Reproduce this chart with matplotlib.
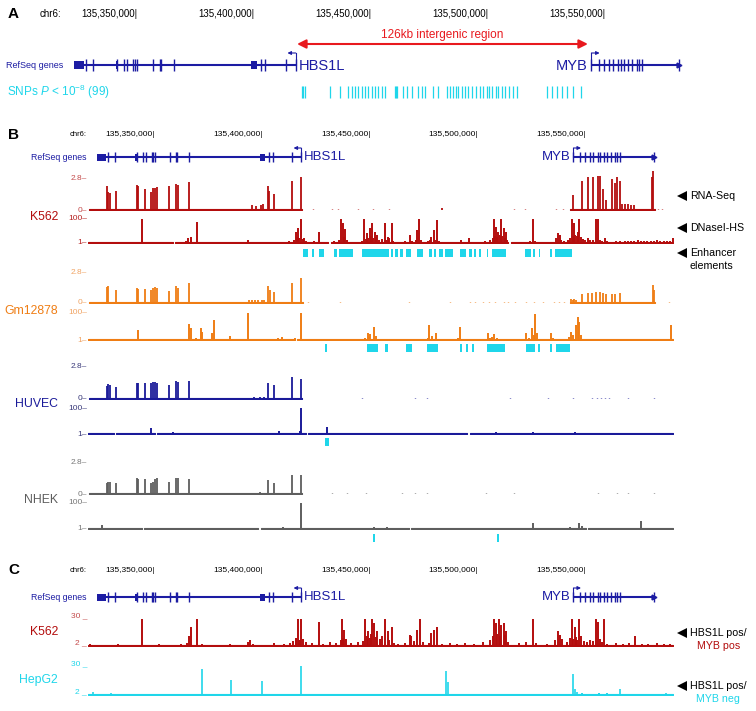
import matplotlib
matplotlib.use('Agg')
import matplotlib.pyplot as plt
from matplotlib.patches import Rectangle

plt.rcParams['font.family'] = ['Liberation Sans', 'DejaVu Sans']
plt.rcParams['mathtext.fontset'] = 'custom'
plt.rcParams['mathtext.rm'] = 'Liberation Sans'
plt.rcParams['mathtext.it'] = 'Liberation Sans:italic'

# all positions in kb from chr6:135,300,000
tick_kb = [50, 100, 150, 200, 250]
tick_labels = ['135,350,000|', '135,400,000|', '135,450,000|', '135,500,000|', '135,550,000|']

hbs1l_span = (23.1, 117.8)
hbs1l_exons = [28.3, 31.4, 41.5, 44.6, 45.7, 48.5, 49.2, 50.0, 57.0, 59.7, 60.4, 65.8,
               103.1, 104.9, 113.5, 117.8]
hbs1l_blocks = [(23.1, 27.3), (40.9, 41.9), (98.8, 101.1)]
myb_span = (244.2, 281.8)
myb_exons = [244.2, 247.4, 249.4, 251.7, 253.3, 255.6, 256.7, 258.3, 259.9, 261.7, 263.7,
             264.5, 266.0, 281.8]
intergenic = (118.4, 242.7)

snps = [120.4, 121.1, 121.8, 132.5, 136.8, 140.3, 141.8, 143.2, 144.6, 146.0, 147.4, 148.8,
        150.3, 151.7, 153.1, 154.5, 155.9, 160.3, 160.6, 160.9, 163.8, 165.3, 167.4, 170.2,
        171.7, 173.1, 176.6, 178.8, 182.4, 183.8, 185.2, 186.3, 187.3, 188.8, 190.2, 191.6,
        193.0, 194.9, 196.6, 198.0, 199.4, 200.6, 201.6, 203.4, 204.4, 205.9, 207.3, 209.1,
        210.6, 212.3, 225.1, 227.2, 229.4, 231.5, 233.6, 236.4, 239.6]

# RNA-Seq (0-2.8), (position, signal)
k562_rna = [(27.7, 2.06), (28.4, 1.57), (29.3, 1.49), (32.1, 1.63), (41.6, 2.23), (42.2, 2.06),
            (45.3, 1.86), (48.3, 1.57), (49.2, 1.94), (50.1, 1.94), (51.0, 2.00), (56.6, 2.06),
            (59.8, 2.29), (60.5, 2.23), (65.6, 2.43), (95.0, 0.40), (97.0, 0.35), (99.0, 0.45),
            (100.3, 0.50), (102.4, 2.14), (103.0, 1.66), (105.1, 1.37), (113.5, 2.51),
            (117.6, 2.86), (183.1, 0.2), (243.9, 1.29), (248.3, 2.57), (251.0, 2.91),
            (253.1, 2.91), (255.4, 3.0), (256.6, 3.0), (258.0, 1.86), (259.3, 0.86),
            (262.1, 2.71), (263.3, 2.34), (264.5, 2.86), (265.9, 2.57), (266.8, 0.55),
            (268.0, 0.50), (269.5, 0.55), (271.0, 0.45), (272.5, 0.40), (280.6, 2.86), (281.3, 3.4)]
k562_rna_cov = [(19.5, 118.0), (242.5, 282.0)]
k562_rna_dots = [123.2, 132.0, 134.7, 144.4, 151.4, 158.5, 216.6, 221.9, 236.0, 239.5, 283.6, 285.4]

gm_rna = [(27.5, 1.52), (28.4, 1.62), (32.1, 1.21), (41.6, 1.43), (42.2, 1.31), (45.3, 1.31),
          (48.3, 1.21), (49.2, 1.43), (50.1, 1.49), (51.0, 1.43), (56.6, 1.12), (59.8, 1.62),
          (60.5, 1.43), (65.6, 1.84), (93.5, 0.25), (95.0, 0.3), (96.5, 0.28), (98.0, 0.32),
          (99.5, 0.3), (100.8, 0.26), (102.4, 1.62), (103.3, 1.21), (105.1, 1.06), (113.5, 1.9),
          (117.6, 2.3), (243.0, 0.34), (243.8, 0.3), (244.6, 0.34), (245.4, 0.3), (248.3, 0.81),
          (251.0, 0.9), (252.7, 0.9), (254.5, 1.0), (256.6, 1.0), (258.0, 0.9), (259.3, 0.81),
          (262.1, 0.81), (263.3, 0.81), (265.9, 0.9), (280.9, 1.68), (281.8, 1.21)]
gm_rna_cov = [(19.5, 118.5), (242.5, 282.0)]
gm_rna_dots = [121.0, 136.0, 168.0, 187.0, 196.0, 198.5, 202.0, 205.0, 208.0, 212.0, 214.0,
               217.0, 222.0, 226.0, 230.0, 235.0, 237.5, 240.0, 288.5]

huvec_rna = [(27.5, 1.1), (28.4, 1.27), (29.3, 1.19), (32.1, 1.05), (41.6, 1.39), (42.2, 1.33),
             (45.3, 1.39), (48.3, 1.33), (49.2, 1.44), (50.1, 1.44), (51.0, 1.39), (56.6, 1.19),
             (59.8, 1.5), (60.5, 1.47), (65.6, 1.53), (96.0, 0.14), (98.5, 0.16), (100.5, 0.15),
             (102.4, 1.39), (105.1, 1.19), (113.5, 1.84), (117.6, 1.67)]
huvec_rna_cov = [(19.5, 118.0)]
huvec_rna_dots = [146.1, 170.8, 176.1, 214.8, 232.5, 243.9, 252.7, 255.0, 257.0, 259.0, 260.5,
                  269.5, 281.8]

nhek_rna = [(27.5, 0.99), (28.4, 1.08), (29.3, 1.08), (32.1, 0.99), (41.6, 1.37), (42.2, 1.28),
            (45.3, 1.28), (48.3, 0.99), (49.2, 1.08), (50.1, 1.28), (51.0, 1.37), (56.6, 1.08),
            (59.8, 1.43), (60.5, 1.37), (65.6, 1.28), (96.0, 0.12), (98.5, 0.14), (100.5, 0.12),
            (102.4, 1.22), (105.1, 0.93), (113.5, 1.66), (117.6, 1.66)]
nhek_rna_cov = [(19.5, 118.0)]
nhek_rna_dots = [132.0, 139.1, 147.9, 164.6, 170.8, 176.1, 203.4, 216.6, 255.4, 264.2, 269.5, 281.8]

# DNaseI-HS (1-100)
k562_dnase = [(43.9, 100), (65.4, 20), (66.5, 27), (69.5, 89), (93.3, 13), (115.3, 48),
              (116.5, 61), (117.9, 100), (119.3, 20), (125.9, 48), (136.4, 100), (137.3, 82),
              (138.2, 57), (147.0, 100), (148.2, 41), (149.7, 61), (150.9, 82), (151.9, 48),
              (153.2, 34), (156.7, 84), (157.9, 27), (159.9, 82), (168.2, 34), (171.7, 55),
              (172.6, 100), (178.2, 27), (179.3, 55), (181.0, 96), (191.9, 13), (195.5, 20),
              (207.4, 100), (208.3, 68), (209.2, 48), (210.6, 100), (211.8, 61), (212.7, 48),
              (225.4, 100), (236.9, 41), (237.8, 34), (243.4, 100), (244.4, 82), (246.2, 48),
              (246.9, 100), (254.5, 100), (255.4, 100), (258.9, 20), (290.3, 20)]
k562_dnase_low = [(20.5, 4), (23, 3), (26, 5), (31, 3), (36, 4), (42.5, 6), (45, 4), (50, 3),
                  (55, 4), (58, 3), (62, 5), (64.5, 8), (68, 6), (71, 4), (76, 3), (80, 4),
                  (86, 3), (90, 4), (95, 6), (98, 3), (103, 5), (108, 6), (112, 8), (114.5, 15),
                  (116, 25), (117, 22), (118.5, 18), (120, 8), (122, 6), (124, 9), (127, 5),
                  (130, 7), (133, 8), (135.5, 14), (137.8, 25), (139, 12), (141, 6), (144, 7),
                  (146, 10), (147.8, 18), (148.8, 22), (150.3, 30), (151.3, 20), (152.5, 25),
                  (154, 15), (155.3, 18), (157.2, 14), (158.8, 20), (160.6, 10), (162, 6),
                  (164, 5), (166, 8), (169.5, 10), (171, 14), (173.5, 12), (175, 6), (176.5, 9),
                  (177.7, 14), (180, 12), (182, 10), (184, 6), (186, 5), (188, 6), (190, 7),
                  (193, 6), (197, 5), (200, 6), (203, 8), (205.5, 15), (206.8, 22), (207.9, 30),
                  (208.8, 25), (209.9, 35), (211.2, 28), (212.2, 22), (213.5, 12), (216, 5),
                  (219, 4), (222, 6), (224, 8), (226.5, 10), (229, 5), (231, 4), (234, 7),
                  (236, 20), (238.5, 12), (240, 10), (241.7, 15), (242.7, 22), (243.9, 30),
                  (245, 35), (245.7, 28), (247.5, 25), (248.5, 18), (249.5, 12), (251, 20),
                  (252, 14), (253.5, 15), (256.5, 15), (257.5, 10), (260, 8), (262, 7), (264, 9),
                  (266, 8), (268, 10), (269.5, 8), (271, 10), (272.5, 9), (274, 12), (275.5, 10),
                  (277, 9), (278.5, 11), (280, 10), (281.5, 9), (283, 12), (284.5, 10), (286, 9),
                  (287.5, 11), (289, 10)]
k562_dnase_cov = [(19.0, 58.5), (59.5, 130.5), (131.5, 214.0), (215.0, 290.4)]

gm_dnase = [(42.2, 38), (66.0, 58), (66.8, 44), (71.2, 46), (71.8, 32), (76.5, 25), (77.4, 74),
            (84.8, 17), (93.3, 99), (109.1, 13), (117.6, 99), (148.8, 25), (150.0, 22),
            (151.8, 50), (177.3, 56), (180.5, 25), (191.6, 50), (204.6, 25), (207.4, 22),
            (222.4, 25), (225.1, 44), (226.3, 96), (227.2, 25), (233.9, 25), (243.0, 32),
            (245.3, 56), (246.2, 87), (246.9, 68), (289.7, 56)]
gm_dnase_low = [(25, 3), (33, 4), (39, 3), (45, 5), (51, 3), (58, 4), (64, 6), (69, 8), (73, 5),
                (80, 4), (88, 3), (96, 4), (104, 5), (107, 7), (111, 6), (115, 8), (122, 3),
                (128, 4), (135, 3), (142, 4), (147.5, 8), (149.5, 12), (152.5, 14), (155, 5),
                (160, 4), (165, 5), (170, 4), (176.5, 10), (178.5, 14), (183, 5), (188, 4),
                (190.8, 10), (196, 4), (200, 5), (205.5, 9), (206.5, 12), (208.5, 8), (212, 5),
                (218, 4), (223.5, 10), (225.8, 20), (230, 6), (234.8, 10), (238, 6), (242.2, 12),
                (244.2, 18), (247.5, 20), (250, 6), (255, 5), (260, 5), (266, 4), (272, 4),
                (278, 5), (284, 4)]
gm_dnase_cov = [(19.0, 115.0), (116.0, 290.4)]

huvec_dnase = [(48.0, 23), (58.4, 10), (107.7, 12), (117.1, 14), (117.6, 100), (129.6, 29),
               (208.1, 10), (225.4, 10), (244.8, 10)]
huvec_dnase_low = [(25, 3), (37, 3), (52, 4), (64, 3), (71, 4), (86, 3), (95, 3), (112, 5),
                   (116, 6), (133, 3), (152, 3), (168, 3), (186, 3), (200, 3), (221, 4), (242, 6),
                   (245.8, 6), (262, 3), (280, 3)]
huvec_dnase_cov = [(19.0, 31.0), (32.0, 50.0), (51.0, 120.0), (121.0, 195.0), (196.0, 290.4)]

nhek_dnase = [(25.4, 16), (109.5, 10), (117.6, 100), (151.8, 10), (157.6, 7), (225.4, 25),
              (242.7, 7), (246.6, 23), (248.0, 12), (275.6, 33)]
nhek_dnase_low = [(31, 3), (46, 3), (58, 3), (66, 4), (84, 3), (104, 4), (112, 5), (115.5, 6),
                  (131, 3), (146, 3), (168, 3), (189, 3), (205, 3), (219, 3), (234, 3), (260, 3),
                  (283, 3)]
nhek_dnase_cov = [(19.0, 44.0), (45.0, 98.0), (99.0, 168.0), (169.0, 250.0), (251.0, 290.4)]

# predicted enhancer elements (start, end)
k562_enh = [(118.8, 121.1), (122.9, 123.6), (125.9, 128.2), (132.9, 134.3), (135.2, 141.7),
            (146.1, 158.5), (159.3, 160.6), (161.6, 162.9), (163.7, 165.2), (166.4, 168.7),
            (171.7, 174.3), (177.0, 178.7), (179.6, 180.5), (181.7, 183.5), (184.5, 188.1),
            (191.6, 194.2), (195.5, 196.9), (198.1, 199.0), (200.4, 201.1), (203.9, 204.6),
            (206.6, 212.7), (221.9, 224.5), (225.4, 226.3), (228.1, 228.9), (233.3, 234.2),
            (235.6, 243.4)]
gm_enh = [(128.9, 129.7), (148.2, 153.5), (156.7, 158.1), (166.4, 169.4), (176.1, 181.4),
          (191.6, 192.5), (194.2, 195.1), (197.2, 198.0), (204.3, 212.2), (222.4, 226.3),
          (227.7, 228.9), (233.3, 234.2), (236.0, 242.7)]
huvec_enh = [(128.9, 130.6)]
nhek_enh = [(151.1, 152.1), (208.7, 209.6)]

# panel C enhancer-like signal (2-30)
c_k562 = [(43.9, 30), (66.0, 12.1), (66.8, 21.2), (69.5, 30), (94.1, 8.7), (115.3, 10.4),
          (116.2, 30), (117.1, 8.7), (117.9, 30), (125.9, 27.3), (136.8, 30), (137.8, 18.9),
          (147.5, 30), (148.8, 17.2), (150.9, 30), (151.8, 25.6), (153.2, 17.2), (156.7, 30),
          (157.9, 17.2), (159.9, 22.2), (168.2, 13.8), (169.0, 12.1), (171.7, 18.9),
          (172.9, 30), (178.2, 15.5), (179.3, 18.9), (181.0, 22.2), (207.4, 30), (208.3, 25.6),
          (209.6, 30), (210.6, 23.9), (211.8, 25.6), (212.7, 17.2), (225.4, 30), (236.9, 17.2),
          (237.8, 13.8), (243.4, 30), (244.8, 22.2), (246.6, 30), (254.5, 30), (255.4, 27.3),
          (258.4, 30), (272.6, 12.1)]
c_k562_low = [(20, 4), (24, 3.5), (28, 3), (33, 4), (38, 3.5), (47, 3), (52, 4), (57, 3.5),
              (62, 4), (64.8, 5), (72, 4), (78, 3), (85, 4), (90, 3.5), (93.3, 6), (95.5, 4),
              (100, 3.5), (105, 5), (110, 4), (112.5, 5), (114.2, 7), (115.5, 9), (116.8, 8.7),
              (118.6, 9), (120, 6), (123, 5), (128, 4), (131, 6), (134, 5), (136.1, 8),
              (137.3, 10), (138.6, 9), (141, 5), (144, 6), (146.3, 7), (148.2, 12), (149.7, 10),
              (150.2, 14), (152.5, 11), (154.3, 9), (155.5, 12), (158.5, 8), (161, 5), (163, 4),
              (166, 5), (170.4, 7), (174.5, 6), (177, 5), (183, 4), (187, 5), (190, 4), (194, 5),
              (198, 4), (202, 6), (205.5, 8), (206.7, 12), (208.9, 14), (210.1, 12), (212.2, 13),
              (214, 6), (219, 5), (222, 6), (227, 5), (232, 4), (235.5, 8), (238.8, 9), (241, 6),
              (242.4, 10), (244.1, 9), (245.3, 11), (245.8, 8), (247.6, 12), (249, 7),
              (250.5, 6), (252, 8), (253.5, 7), (256.4, 9), (257.3, 6), (260, 4), (264, 5),
              (267, 4.5), (270, 5), (276, 4), (279, 4.5), (283, 5), (286, 4), (289, 4.5)]
c_hepg2 = [(21.4, 5.5), (29.8, 4.5), (71.6, 28.3), (85.3, 17.4), (99.8, 15.7), (117.6, 30.7),
           (184.9, 26.5), (185.8, 15.0), (243.9, 23), (244.8, 8), (245.7, 5.5), (265.9, 8),
           (287.1, 4.5)]
c_hepg2_low = [(26, 3), (38, 3), (50, 3), (57, 3.5), (61, 3), (68, 3.5), (75, 3), (80, 3.5),
               (92, 3), (104, 3.5), (110, 3), (114, 3.5), (121, 3.5), (128, 3), (140, 3),
               (150, 3), (160, 3.5), (172, 3), (182, 3.5), (200, 3), (214, 3.5), (230, 3),
               (248, 4), (252, 3.5), (256, 4), (260, 4.5), (270, 3.5), (276, 3), (282, 3.5)]

GENE = '#1c1ca3'
RED = '#b30d0d'
ORANGE = '#ef7d14'
HUVEC = '#1a1a99'
GREY = '#5e5e5e'
CYAN = '#1fd6ea'
ARROW = '#e8191e'

W, H = 756, 711
fig = plt.figure(figsize=(W / 100, H / 100), dpi=100)
XL = (18.9, 290.4)
TX0, TX1 = 88, 673


def px_axes(x0, x1, y0, y1):
    ax = fig.add_axes([x0 / W, 1 - y1 / H, (x1 - x0) / W, (y1 - y0) / H])
    ax.axis('off')
    return ax


ov = px_axes(0, W, 0, H)
ov.set_xlim(0, W)
ov.set_ylim(H, 0)


def draw_gene(ax, yc, tick_h, block_h, tss_h, name_fs):
    ax.hlines(yc, *hbs1l_span, color=GENE, lw=1.5)
    ax.vlines(hbs1l_exons, yc - tick_h, yc + tick_h, color=GENE, lw=1.0)
    for s, e in hbs1l_blocks:
        ax.add_patch(Rectangle((s, yc - block_h), e - s, 2 * block_h, color=GENE, lw=0))
    ax.plot([hbs1l_span[1]] * 2, [yc, yc - tss_h], color=GENE, lw=0.8)
    ax.annotate('', xy=(hbs1l_span[1] - 3.5, yc - tss_h), xytext=(hbs1l_span[1], yc - tss_h),
                arrowprops=dict(arrowstyle='-|>', color=GENE, lw=0.8, mutation_scale=5,
                                shrinkA=0, shrinkB=0))
    ax.text(hbs1l_span[1] + 1.2, yc + 0.5, 'HBS1L', color=GENE, fontsize=name_fs,
            ha='left', va='center')
    ax.hlines(yc, *myb_span, color=GENE, lw=1.5)
    ax.vlines(myb_exons, yc - tick_h, yc + tick_h, color=GENE, lw=1.0)
    ax.plot(myb_span[1], yc, marker='>', ms=3.5, color=GENE)
    ax.plot([myb_span[0]] * 2, [yc, yc - tss_h], color=GENE, lw=0.8)
    ax.annotate('', xy=(myb_span[0] + 3.5, yc - tss_h), xytext=(myb_span[0], yc - tss_h),
                arrowprops=dict(arrowstyle='-|>', color=GENE, lw=0.8, mutation_scale=5,
                                shrinkA=0, shrinkB=0))
    ax.text(myb_span[0] - 1.5, yc + 0.5, 'MYB', color=GENE, fontsize=name_fs,
            ha='right', va='center')


# ---------------- panel A ----------------
axA = px_axes(43.4, 710.3, 0, 105)
axA.set_xlim(10, 295)
axA.set_ylim(105, 0)
for k, lab in zip(tick_kb, tick_labels):
    axA.text(k, 14, lab, ha='right', va='center', fontsize=7)
draw_gene(axA, 65, 6, 4, 12, 10.5)
axA.annotate('', xy=(intergenic[0], 44), xytext=(intergenic[1], 44),
             arrowprops=dict(arrowstyle='<|-|>', color=ARROW, lw=1.5, mutation_scale=13,
                             shrinkA=0, shrinkB=0))
axA.text(sum(intergenic) / 2, 35, '126kb intergenic region', color=ARROW, fontsize=8.5,
         ha='center', va='center')
axA.vlines(snps, 86, 98, color=CYAN, lw=0.9)
ov.text(8, 14, 'A', fontsize=11, fontweight='bold', va='center')
ov.text(40, 14, 'chr6:', fontsize=7, va='center')
ov.text(6, 66, 'RefSeq genes', fontsize=6.5, color=GENE, va='center')
ov.text(7, 92, r'SNPs $P$ < 10$^{-8}$ (99)', fontsize=8.5, color=CYAN, va='center')


# ---------------- helpers for B / C ----------------
def header(y0, y1, yc_head, yc_gene, letter):
    ax = px_axes(TX0, TX1, y0, y1)
    ax.set_xlim(XL)
    ax.set_ylim(y1, y0)
    for k, lab in zip(tick_kb, tick_labels):
        ax.text(k, yc_head, lab, ha='right', va='center', fontsize=6)
    draw_gene(ax, yc_gene, 5, 3.5, 9, 9.5)
    ov.text(8, yc_head, letter, fontsize=11, fontweight='bold', va='center')
    ov.text(87, yc_head, 'chr6:', fontsize=5.5, va='center', ha='right')
    ov.text(31, yc_gene, 'RefSeq genes', fontsize=6.3, color=GENE, va='center')


def track(y_top, y_bot, lim, peaks, color, low=(), cov=(), level=None, dots=(), lw=1.3):
    ax = px_axes(TX0, TX1, y_top, y_bot)
    ax.set_xlim(XL)
    ax.set_ylim(lim)
    base = lim[0]
    if level is None:
        level = base
    for s, e in cov:
        ax.fill_between([s, e], base, level, color=color, lw=0.8, edgecolor=color)
    if dots:
        ax.vlines(dots, base, base + (lim[1] - lim[0]) * 0.03, color=color, lw=1.0)
    if low:
        p, v = zip(*low)
        ax.vlines(p, base, v, color=color, lw=1.4, clip_on=False)
    p, v = zip(*peaks)
    ax.vlines(p, base, v, color=color, lw=lw, clip_on=False)
    return ax


def enh(y_top, y_bot, spans):
    ax = px_axes(TX0, TX1, y_top, y_bot)
    ax.set_xlim(XL)
    ax.set_ylim(0, 1)
    ax.broken_barh([(s, e - s) for s, e in spans], (0, 1), color=CYAN, lw=0)


def ticks(y_top, y_bot, top, bot, color, fs=6):
    ov.text(87, y_top, top, ha='right', va='center', fontsize=fs, color=color)
    ov.text(87, y_bot, bot, ha='right', va='center', fontsize=fs, color=color)


def cell(y, name, color):
    ov.text(58, y, name, ha='right', va='center', fontsize=8.8, color=color)


# ---------------- panel B ----------------
header(125, 168, 135, 157, 'B')

track(178, 210, (0, 2.8), k562_rna, RED, cov=k562_rna_cov, level=0.1, dots=k562_rna_dots)
ticks(178, 210, '2.8\u2013', '0\u2013', '#c44b4b')
track(219, 243, (1, 100), k562_dnase, RED, low=k562_dnase_low, cov=k562_dnase_cov, level=5, lw=1.4)
ticks(219, 243, '100\u2013', '1\u2013', '#b52020')
enh(249, 257, k562_enh)
cell(217, 'K562', RED)

track(273, 303, (0, 2.8), gm_rna, ORANGE, cov=gm_rna_cov, level=0.1, dots=gm_rna_dots)
ticks(273, 303, '2.8\u2013', '0\u2013', '#f0a464')
track(313, 340, (1, 100), gm_dnase, ORANGE, low=gm_dnase_low, cov=gm_dnase_cov, level=4, lw=1.4)
ticks(313, 340, '100\u2013', '1\u2013', '#f0a464')
enh(344, 352, gm_enh)
cell(311, 'Gm12878', ORANGE)

track(366, 399, (0, 2.8), huvec_rna, HUVEC, cov=huvec_rna_cov, level=0.08, dots=huvec_rna_dots)
ticks(366, 399, '2.8\u2013', '0\u2013', '#3a3a7a')
track(408, 434, (1, 100), huvec_dnase, HUVEC, low=huvec_dnase_low, cov=huvec_dnase_cov, level=3, lw=1.4)
ticks(408, 434, '100\u2013', '1\u2013', '#3a3a7a')
enh(438, 446, huvec_enh)
cell(404, 'HUVEC', HUVEC)

track(462, 494, (0, 2.8), nhek_rna, GREY, cov=nhek_rna_cov, level=0.08, dots=nhek_rna_dots)
ticks(462, 494, '2.8\u2013', '0\u2013', '#777777')
track(503, 529, (1, 100), nhek_dnase, GREY, low=nhek_dnase_low, cov=nhek_dnase_cov, level=3, lw=1.4)
ticks(503, 529, '100\u2013', '1\u2013', '#777777')
enh(534, 542, nhek_enh)
cell(500, 'NHEK', GREY)

# right annotations B
for y, lab in [(196, 'RNA-Seq'), (228, 'DNaseI-HS'), (253, 'Enhancer')]:
    ov.plot(682, y, marker='<', ms=7, color='black', mew=0)
    ov.text(690, y, lab, fontsize=7.7, va='center')
ov.text(690, 266, 'elements', fontsize=7.7, va='center')

# ---------------- panel C ----------------
header(560, 606, 570, 597, 'C')
track(619, 646, (2, 30), c_k562, RED, low=c_k562_low, cov=[(19.0, 290.4)], level=3.2, lw=1.4)
ov.text(87, 616, '30 _', ha='right', va='center', fontsize=6, color='#c44b4b')
ov.text(87, 643, '2 _', ha='right', va='center', fontsize=6, color='#c44b4b')
cell(632, 'K562', RED)
track(667, 695, (2, 30), c_hepg2, CYAN, low=c_hepg2_low, cov=[(19.0, 290.4)], level=2.9, lw=1.2)
ov.text(87, 664, '30 _', ha='right', va='center', fontsize=6, color=CYAN)
ov.text(87, 692, '2 _', ha='right', va='center', fontsize=6, color=CYAN)
cell(680, 'HepG2', CYAN)

for y, sub, col in [(633, 'MYB pos', RED), (686, 'MYB neg', CYAN)]:
    ov.plot(682, y, marker='<', ms=7, color='black', mew=0)
    ov.text(690, y, 'HBS1L pos/', fontsize=7.7, va='center')
    ov.text(740, y + 13, sub, fontsize=7.7, va='center', ha='right', color=col)

fig.savefig('out.png', dpi=100)
